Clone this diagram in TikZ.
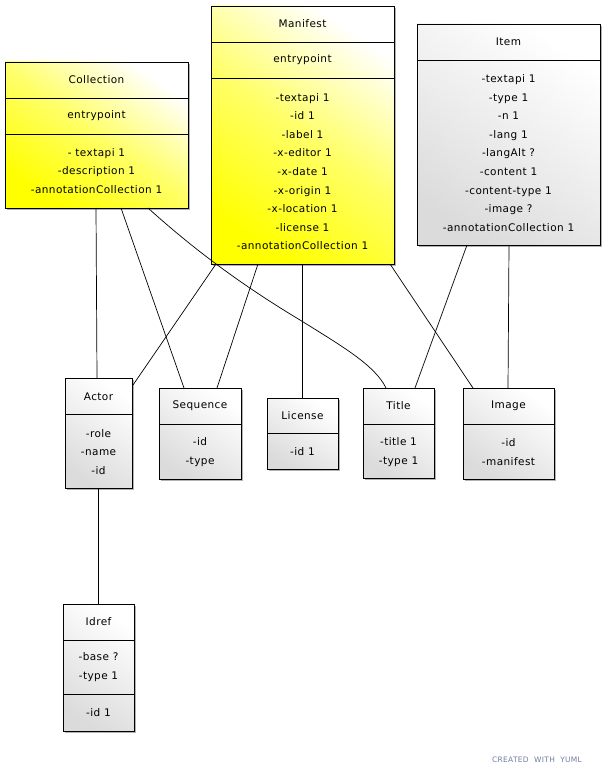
\documentclass[tikz,border=0pt]{standalone}
\usepackage{fontspec}
\setmainfont{DejaVu Sans}[LetterSpace=4]
\usetikzlibrary{calc}
\definecolor{creditc}{RGB}{110,125,160}
\tikzset{
  yel/.style={shade, top color=white, bottom color=yellow, middle color=yellow!60, shading angle=-35},
  gry/.style={shade, top color=white, bottom color=black!14, shading angle=-35},
  lbl/.style={font=\fontsize{10.5}{18.6}\selectfont, align=center, inner sep=0pt},
  conn/.style={draw=black, line width=0.7pt},
  bx/.style={draw=black, line width=0.8pt}
}
\newcommand{\umlbox}[6]{%
  \fill[black!30] (#2+2,#3+2) rectangle (#4+2,#5+2);
  \path[#6] (#2,#3) rectangle (#4,#5);
  \draw[bx] (#2,#3) rectangle (#4,#5);
  \coordinate (#1-nw) at (#2,#3);
  \coordinate (#1-se) at (#4,#5);
}
\newcommand{\hdiv}[3]{\draw[bx] (#1,#3) -- (#2,#3);}
\begin{document}
\begin{tikzpicture}[x=1pt,y=-1pt]
\useasboundingbox (0,0) rectangle (605,775);
% boxes
\umlbox{coll}{5}{62}{188}{208}{yel}
\hdiv{5}{188}{98}\hdiv{5}{188}{134}
\node[lbl] (collT) at (96.5,80) {Collection};
\node[lbl] (collE) at (96.5,116) {entrypoint};
\node[lbl] (collA) at (96.5,171) {- textapi 1\\-description 1\\-annotationCollection 1};

\umlbox{man}{211}{6}{394}{264}{yel}
\hdiv{211}{394}{42}\hdiv{211}{394}{78}
\node[lbl] (manT) at (302.5,24) {Manifest};
\node[lbl] (manE) at (302.5,60) {entrypoint};
\node[lbl] (manA) at (302.5,171.5) {-textapi 1\\-id 1\\-label 1\\-x-editor 1\\-x-date 1\\-x-origin 1\\-x-location 1\\-license 1\\-annotationCollection 1};

\umlbox{item}{417}{24}{600}{245}{gry}
\hdiv{417}{600}{60}
\node[lbl] (itemT) at (508.5,42) {Item};
\node[lbl] (itemA) at (508.5,153) {-textapi 1\\-type 1\\-n 1\\-lang 1\\-langAlt ?\\-content 1\\-content-type 1\\-image ?\\-annotationCollection 1};

\umlbox{actor}{65}{378}{132}{488}{gry}
\hdiv{65}{132}{414}
\node[lbl] (actorT) at (98.5,397) {Actor};
\node[lbl] (actorA) at (98.5,452) {-role\\-name\\-id};

\umlbox{seq}{159}{388}{241}{479}{gry}
\hdiv{159}{241}{424}
\node[lbl] (seqT) at (200,406) {Sequence};
\node[lbl] (seqA) at (200,452) {-id\\-type};

\umlbox{lic}{267}{398}{338}{469}{gry}
\hdiv{267}{338}{433}
\node[lbl] (licT) at (302.5,416) {License};
\node[lbl] (licA) at (302.5,452) {-id 1};

\umlbox{title}{363}{388}{434}{478}{gry}
\hdiv{363}{434}{424}
\node[lbl] (titleT) at (398.5,406) {Title};
\node[lbl] (titleA) at (398.5,452) {-title 1\\-type 1};

\umlbox{img}{463}{388}{554}{479}{gry}
\hdiv{463}{554}{424}
\node[lbl] (imgT) at (508.5,406) {Image};
\node[lbl] (imgA) at (508.5,452) {-id\\-manifest};

\umlbox{idref}{63}{604}{134}{731}{gry}
\hdiv{63}{134}{640}\hdiv{63}{134}{694}
\node[lbl] (idrefT) at (98.5,622) {Idref};
\node[lbl] (idrefA) at (98.5,667) {-base ?\\-type 1};
\node[lbl] (idrefB) at (98.5,713) {-id 1};

% connectors
\draw[conn] ($(coll-nw |- coll-se)+(91,0)$) -- (97,378);
\draw[conn] ($(coll-nw |- coll-se)+(116,0)$) -- (184,388);
\draw[conn] ($(coll-nw |- coll-se)+(143,0)$) .. controls (200,255) and (250,290) .. (300,320) .. controls (340,345) and (375,365) .. (386,388);
\draw[conn] ($(man-nw |- man-se)+(5,0)$) -- (133,385);
\draw[conn] ($(man-nw |- man-se)+(47,0)$) -- (217,388);
\draw[conn] ($(man-nw |- man-se)+(91,0)$) -- (302,398);
\draw[conn] ($(man-nw |- man-se)+(179,0)$) -- (473,388);
\draw[conn] ($(item-nw |- item-se)+(50,0)$) -- (415,388);
\draw[conn] ($(item-nw |- item-se)+(92,0)$) -- (508,388);
\draw[conn] ($(actor-nw |- actor-se)+(33,0)$) -- (98,604);

\node[font=\fontsize{7.5}{9}\selectfont, text=creditc, inner sep=0pt] (credit) at (537,760) {CREATED\ \ WITH\ \ YUML};
\end{tikzpicture}
\end{document}
